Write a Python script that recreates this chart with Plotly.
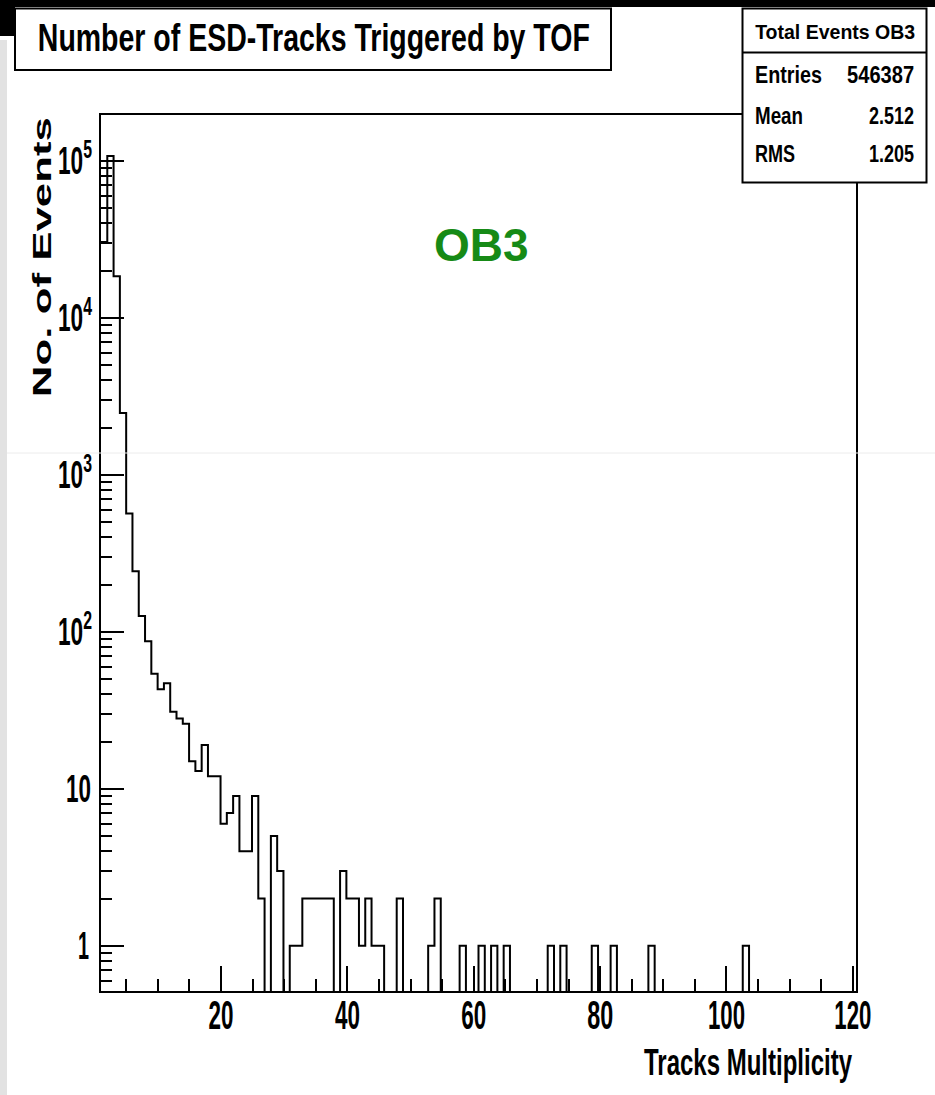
import json
import plotly.graph_objects as go

# ---- histogram: 121 bins over [0, 120.5]; bins 1..120 are displayed ----
N_BINS = 121
X_LOW, X_HIGH = 0.0, 120.5

# counts of bins 1..120 (track multiplicity)
counts = [
    30400, 107400, 18400, 2477, 566, 243, 126, 87, 54, 43,      # 1-10
    47, 31, 28, 26, 15, 13, 19, 12, 12, 6,                      # 11-20
    7, 9, 4, 4, 9, 2, 0, 5, 3, 0,                               # 21-30
    1, 1, 2, 2, 2, 2, 2, 0, 3, 2,                               # 31-40
    2, 1, 2, 1, 1, 0, 0, 2, 0, 0,                               # 41-50
    0, 0, 1, 2, 0, 0, 0, 1, 0, 0,                               # 51-60
    1, 0, 1, 0, 1, 0, 0, 0, 0, 0,                               # 61-70
    0, 1, 0, 1, 0, 0, 0, 0, 1, 0,                               # 71-80
    0, 1, 0, 0, 0, 0, 0, 1, 0, 0,                               # 81-90
    0, 0, 0, 0, 0, 0, 0, 0, 0, 0,                               # 91-100
    0, 0, 1, 0, 0, 0, 0, 0, 0, 0,                               # 101-110
    0, 0, 0, 0, 0, 0, 0, 0, 0, 0,                               # 111-120
]

x_tick_vals = [20, 40, 60, 80, 100, 120]
y_tick_vals = [1, 10, 100, 1000, 10000, 100000]
y_tick_text = ["1", "10", "10<sup>2</sup>", "10<sup>3</sup>", "10<sup>4</sup>", "10<sup>5</sup>"]

title_text = "Number of ESD-Tracks Triggered by TOF"
stats_title = "Total Events OB3"
stats_rows = [("Entries", "546387"), ("Mean", "2.512"), ("RMS", "1.205")]
label_text = "OB3"
x_title = "Tracks Multiplicity"
y_title = "No. of Events"

# ---- geometry ----
W, H = 935, 1095
L, R, T, B = 101, 79, 115, 104
PW, PH = W - L - R, H - T - B

def px(x):
    return (x - L) / PW

def py(y):
    return (H - B - y) / PH

SANS = "Liberation Sans, Arial, Helvetica, sans-serif"

# condensed Helvetica look: rendered width (px) of each text and the edge kept in place
text_fit = {
    title_text: [552, "middle"],
    stats_title: [160, "middle"],
    "Entries": [67, "start"], "546387": [67, "end"],
    "Mean": [48, "start"], "2.512": [45, "end"],
    "RMS": [40, "start"], "1.205": [45, "end"],
    x_title: [208, "end"],
    y_title: [280, "middle"],
    "20": [25, "middle"], "40": [25, "middle"], "60": [25, "middle"],
    "80": [26, "middle"], "100": [37, "middle"], "120": [37, "middle"],
}
# y tick labels: width (px) and right edge (page px)
ytick_fit = {
    "1": [11, 89], "10": [25, 91],
    "102": [34, 92], "103": [34, 92], "104": [34, 92], "105": [34, 92],
}

bin_w = (X_HIGH - X_LOW) / N_BINS
edges = [X_LOW + k * bin_w for k in range(1, N_BINS + 1)]
floor = 1e-2  # empty bins drop below the frame
y_step = [c if c > 0 else floor for c in counts]
y_step = y_step + [y_step[-1]]

fig = go.Figure()
fig.add_trace(go.Scatter(
    x=edges, y=y_step, mode="lines", line_shape="hv",
    line=dict(color="black", width=2), showlegend=False, hoverinfo="skip",
))

minor_y = [m * 10 ** e for e in range(-1, 6) for m in range(2, 10)]

fig.update_layout(
    width=W, height=H,
    margin=dict(l=L, r=R, t=T, b=B, pad=0),
    paper_bgcolor="white", plot_bgcolor="white",
    showlegend=False,
    xaxis=dict(
        range=[edges[0], X_HIGH], showgrid=False, zeroline=False,
        showline=True, linecolor="black", linewidth=2, mirror=True,
        tickmode="array", tickvals=x_tick_vals,
        ticks="inside", ticklen=25, tickwidth=2, tickcolor="black",
        minor=dict(dtick=5, tick0=0, ticks="inside", ticklen=12, tickwidth=2, tickcolor="black"),
        tickfont=dict(family=SANS, size=40, color="black", weight="bold"),
        ticklabelstandoff=-12,
    ),
    yaxis=dict(
        type="log", range=[-0.288, 5.292], showgrid=False, zeroline=False,
        showline=True, linecolor="black", linewidth=2, mirror=True,
        tickmode="array", tickvals=y_tick_vals, ticktext=y_tick_text,
        ticks="inside", ticklen=23, tickwidth=2, tickcolor="black",
        minor=dict(tickmode="array", tickvals=minor_y, ticks="inside", ticklen=11,
                   tickwidth=2, tickcolor="black"),
        tickfont=dict(family=SANS, size=38, color="black", weight="bold"),
        ticklabelstandoff=4,
    ),
)

shapes = []
# page edge decorations
shapes.append(dict(type="rect", xref="paper", yref="paper", x0=px(0), x1=px(W), y0=py(0), y1=py(7),
                   fillcolor="black", line_width=0, layer="above"))
shapes.append(dict(type="rect", xref="paper", yref="paper", x0=px(0), x1=px(15), y0=py(0), y1=py(36),
                   fillcolor="black", line_width=0, layer="above"))
shapes.append(dict(type="rect", xref="paper", yref="paper", x0=px(0), x1=px(7), y0=py(40), y1=py(H),
                   fillcolor="#e2e2e2", line_width=0, layer="above"))
shapes.append(dict(type="line", xref="paper", yref="paper", x0=px(7), x1=px(W), y0=py(453), y1=py(453),
                   line=dict(color="#ececec", width=1), layer="above"))
# title box
shapes.append(dict(type="rect", xref="paper", yref="paper", x0=px(15), x1=px(611), y0=py(8.5), y1=py(70),
                   fillcolor="white", line=dict(color="black", width=2), layer="above"))
# stats box
shapes.append(dict(type="rect", xref="paper", yref="paper", x0=px(742.5), x1=px(926.5), y0=py(8.5), y1=py(182.5),
                   fillcolor="white", line=dict(color="black", width=2), layer="above"))
shapes.append(dict(type="line", xref="paper", yref="paper", x0=px(742.5), x1=px(926.5), y0=py(52.5), y1=py(52.5),
                   line=dict(color="black", width=2), layer="above"))
fig.update_layout(shapes=shapes)

ann = []
ann.append(dict(text=title_text, x=px(314), y=py(38), xref="paper", yref="paper",
                xanchor="center", yanchor="middle", showarrow=False,
                font=dict(family=SANS, size=39, color="black", weight="bold")))
ann.append(dict(text=stats_title, x=px(834.5), y=py(31), xref="paper", yref="paper",
                xanchor="center", yanchor="middle", showarrow=False,
                font=dict(family=SANS, size=21, color="black", weight="bold")))
for i, (name, val) in enumerate(stats_rows):
    yc = [75, 115, 154][i]
    ann.append(dict(text=name, x=px(753), y=py(yc), xref="paper", yref="paper",
                    xanchor="left", yanchor="middle", showarrow=False,
                    font=dict(family=SANS, size=24, color="black", weight="bold")))
    ann.append(dict(text=val, x=px(916), y=py(yc), xref="paper", yref="paper",
                    xanchor="right", yanchor="middle", showarrow=False,
                    font=dict(family=SANS, size=24, color="black", weight="bold")))
ann.append(dict(text=label_text, x=px(482), y=py(245), xref="paper", yref="paper",
                xanchor="center", yanchor="middle", showarrow=False,
                font=dict(family=SANS, size=46, color="#168a16", weight="bold")))
ann.append(dict(text=x_title, x=px(853), y=py(1062), xref="paper", yref="paper",
                xanchor="right", yanchor="middle", showarrow=False,
                font=dict(family=SANS, size=37, color="black", weight="bold")))
ann.append(dict(text=y_title, x=px(42), y=py(257), xref="paper", yref="paper",
                xanchor="center", yanchor="middle", showarrow=False, textangle=-90,
                font=dict(family=SANS, size=25, color="black", weight="bold")))
fig.update_layout(annotations=ann)

# squeeze/stretch texts to their widths with SVG textLength.  Every text is
# switched to a start anchor first, so the length adjustment grows from its left
# edge.  The fit is re-applied after every redraw (axes redraw their labels).
post_js = """
var fitSpec = %s;
var ytickSpec = %s;
var gd = document.getElementById('{plot_id}');
function shiftX(t, dx) {
  if (Math.abs(dx) < 0.01) { return; }
  var x0 = parseFloat(t.getAttribute('x') || '0');
  t.setAttribute('x', x0 + dx);
}
function keyOf(t) { return (t.textContent || '').replace(/\\u200b/g, '').trim(); }
function toStart(t) {
  var b0 = t.getBBox();
  t.setAttribute('text-anchor', 'start');
  t.style.textAnchor = 'start';
  var bA = t.getBBox();
  shiftX(t, b0.x - bA.x);
  return b0;
}
function squeeze(t, w) {
  t.setAttribute('textLength', w);
  t.setAttribute('lengthAdjust', 'spacingAndGlyphs');
}
function fitAll() {
  gd.querySelectorAll('g.infolayer text, g.xtick text').forEach(function(t){
    var key = keyOf(t);
    if (!Object.prototype.hasOwnProperty.call(fitSpec, key)) { return; }
    var w = fitSpec[key][0], anchor = fitSpec[key][1];
    var b0 = toStart(t);
    var left;
    if (anchor === 'end') { left = b0.x + b0.width - w; }
    else if (anchor === 'start') { left = b0.x; }
    else { left = b0.x + b0.width / 2 - w / 2; }
    shiftX(t, left - b0.x);
    squeeze(t, w);
  });
  gd.querySelectorAll('g.ytick text').forEach(function(t){
    var key = keyOf(t);
    if (!Object.prototype.hasOwnProperty.call(ytickSpec, key)) { return; }
    var w = ytickSpec[key][0], right = ytickSpec[key][1];
    toStart(t);
    squeeze(t, w);
    var r = t.getBoundingClientRect();
    var b = t.getBBox();
    var offset = r.left - b.x;
    shiftX(t, (right - w - offset) - b.x);
  });
}
fitAll();
if (gd.on) { gd.on('plotly_afterplot', fitAll); }
[50, 300, 800].forEach(function(ms){ setTimeout(fitAll, ms); });
""" % (json.dumps(text_fit), json.dumps(ytick_fit))

fig.write_html("out.html", post_script=post_js)
